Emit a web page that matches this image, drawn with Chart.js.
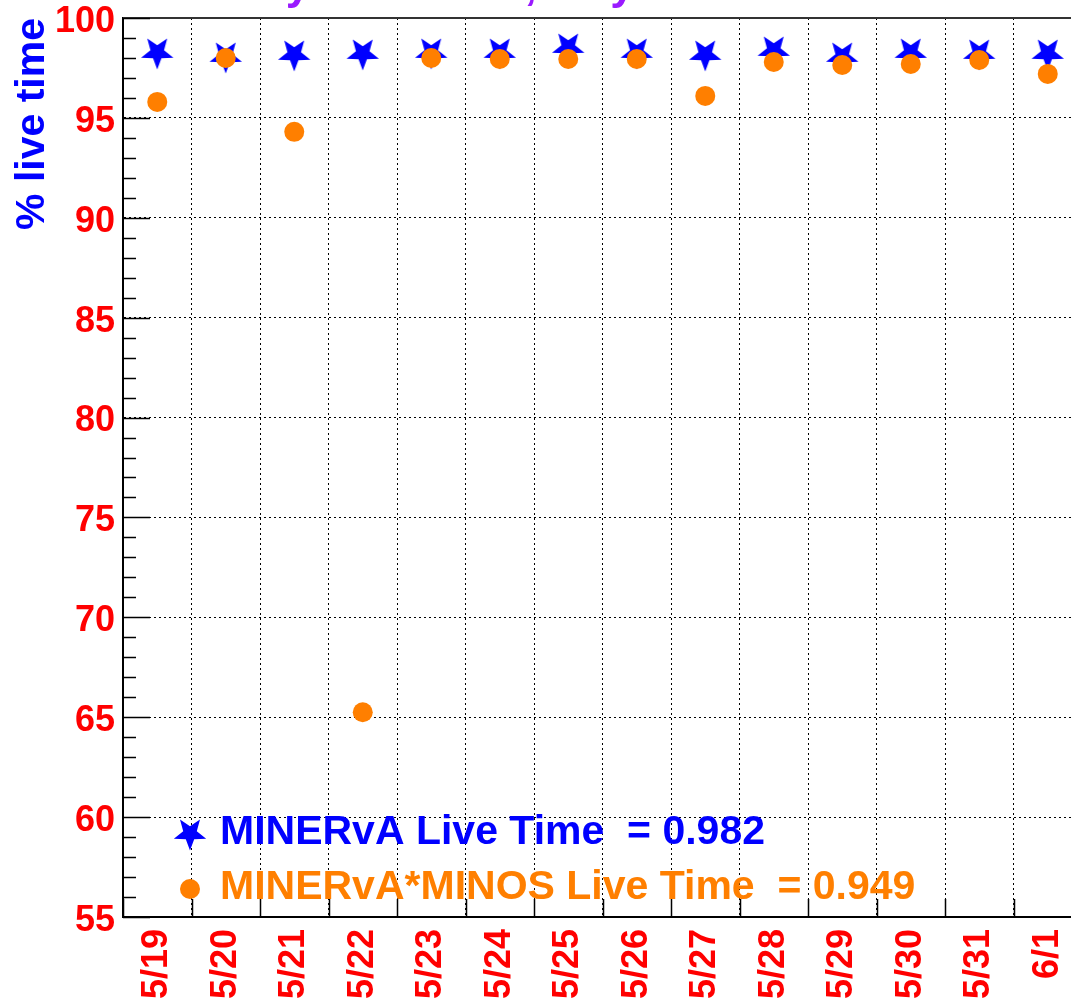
<!DOCTYPE html>
<html>
<head>
<meta charset="utf-8">
<script src="https://cdn.jsdelivr.net/npm/chart.js@4.4.0/dist/chart.umd.min.js"></script>
<style>
  html, body { margin: 0; padding: 0; overflow: hidden; background: #fff; }
  #wrap { position: absolute; left: 0; top: 0; width: 1100px; height: 1004px; }
</style>
</head>
<body>
<div id="wrap"><canvas id="liveChart"></canvas></div>
<script>
const days = ["5/19", "5/20", "5/21", "5/22", "5/23", "5/24", "5/25",
              "5/26", "5/27", "5/28", "5/29", "5/30", "5/31", "6/1"];
const minervaLive = [98.2, 98.0, 98.1, 98.15, 98.2, 98.2, 98.45,
                     98.2, 98.1, 98.3, 98.0, 98.2, 98.15, 98.15];
const minosLive = [95.8, 98.0, 94.3, 65.25, 98.0, 97.95, 97.95,
                   97.95, 96.1, 97.8, 97.65, 97.7, 97.9, 97.2];
const yTicks = [55, 60, 65, 70, 75, 80, 85, 90, 95, 100];
const summaryLabels = ["MINERvA Live Time", "MINERvA*MINOS Live Time"];
const summaryValues = [0.982, 0.949];
const plotTitle = "Daily Live Time, May 19 - June 1";

const FONT = "'Liberation Sans', Arial, Helvetica, sans-serif";
const BLUE = "#0000ff";
const ORANGE = "#ff7f00";
const RED = "#ff0000";
const PURPLE = "#9a1aff";

// filled 5 point star, tip pointing down
const makeStar = (color, R) => {
  const size = Math.ceil(2 * R + 4);
  const c = document.createElement("canvas");
  c.width = size;
  c.height = size;
  const g = c.getContext("2d");
  const cx = size / 2;
  const cy = size / 2 - 0.0955 * R;
  const r = 0.42 * R;
  g.beginPath();
  for (let k = 0; k < 10; k++) {
    const a = (k * Math.PI) / 5;
    const rad = k % 2 === 0 ? R : r;
    const x = cx + rad * Math.sin(a);
    const y = cy + rad * Math.cos(a);
    if (k === 0) g.moveTo(x, y);
    else g.lineTo(x, y);
  }
  g.closePath();
  g.fillStyle = color;
  g.fill();
  return c;
};

const starImg = makeStar(BLUE, 17);

// frame, inward ticks, title and the summary box
const decorations = {
  id: "decorations",
  afterDraw(chart) {
    const ctx = chart.ctx;
    const area = chart.chartArea;
    const xs = chart.scales.x;
    const ys = chart.scales.y;
    ctx.save();

    // top frame line
    ctx.strokeStyle = "#333";
    ctx.lineWidth = 2;
    ctx.beginPath();
    ctx.moveTo(area.left, area.top);
    ctx.lineTo(chart.width, area.top);
    ctx.stroke();

    // y ticks (major every 5, minor every 1)
    ctx.strokeStyle = "#000";
    ctx.lineWidth = 1.5;
    ctx.beginPath();
    for (let v = ys.min; v <= ys.max; v++) {
      const y = Math.round(ys.getPixelForValue(v)) + 0.5;
      const len = v % 5 === 0 ? 27 : 13;
      ctx.moveTo(area.left, y);
      ctx.lineTo(area.left + len, y);
    }
    // x ticks at bin edges
    const half = (xs.getPixelForValue(1) - xs.getPixelForValue(0)) / 2;
    for (let i = 0; i <= days.length; i++) {
      const x = Math.round(xs.getPixelForValue(i) - half) + 0.5;
      ctx.moveTo(x, area.bottom);
      ctx.lineTo(x, area.bottom - 18);
    }
    ctx.stroke();

    // title, mostly outside the picture
    ctx.font = "bold 44px " + FONT;
    ctx.fillStyle = PURPLE;
    ctx.textAlign = "left";
    ctx.textBaseline = "alphabetic";
    ctx.fillText(plotTitle, 205, -1);

    // summary box
    ctx.font = "bold 41px " + FONT;
    ctx.drawImage(starImg, 190 - starImg.width / 2, 835 - starImg.height / 2);
    ctx.fillStyle = BLUE;
    ctx.fillText(summaryLabels[0] + "  = " + summaryValues[0].toFixed(3), 220, 844);

    ctx.beginPath();
    ctx.arc(190, 889, 10, 0, Math.PI * 2);
    ctx.fillStyle = ORANGE;
    ctx.fill();
    ctx.fillText(summaryLabels[1] + "  = " + summaryValues[1].toFixed(3), 220, 899);

    ctx.restore();
  },
};

const ctx = document.getElementById("liveChart").getContext("2d");

const myChart = new Chart(ctx, {
  type: "line",
  data: {
    labels: days,
    datasets: [
      {
        label: summaryLabels[1],
        data: minosLive,
        showLine: false,
        pointStyle: "circle",
        pointRadius: 10,
        pointBackgroundColor: ORANGE,
        pointBorderWidth: 0,
        order: 0,
      },
      {
        label: summaryLabels[0],
        data: minervaLive,
        showLine: false,
        pointStyle: starImg,
        pointRadius: 17,
        order: 1,
      },
    ],
  },
  options: {
    responsive: true,
    maintainAspectRatio: false,
    animation: false,
    layout: { padding: { top: 17, right: 1, left: 0, bottom: 0 } },
    plugins: {
      legend: { display: false },
      tooltip: { enabled: false },
    },
    scales: {
      x: {
        type: "category",
        offset: true,
        grid: {
          offset: true,
          color: "#000",
          lineWidth: 1,
          drawTicks: false,
        },
        border: { display: true, color: "#000", width: 2, dash: [2, 3] },
        ticks: {
          color: RED,
          font: { family: FONT, size: 36, weight: "bold" },
          minRotation: 90,
          maxRotation: 90,
          padding: 12,
          autoSkip: false,
        },
        afterFit: (scale) => {
          scale.height = 87;
          scale.paddingLeft = 0;
          scale.paddingRight = 0;
        },
      },
      y: {
        min: 55,
        max: 100,
        afterBuildTicks: (scale) => {
          scale.ticks = yTicks.map((v) => ({ value: v }));
        },
        grid: {
          color: "#000",
          lineWidth: 1,
          drawTicks: false,
        },
        border: { display: true, color: "#000", width: 2, dash: [2, 3] },
        ticks: {
          color: RED,
          font: { family: FONT, size: 36, weight: "bold" },
          padding: 8,
          labelOffset: 4,
        },
        title: {
          display: true,
          text: "% live time",
          color: BLUE,
          align: "end",
          font: { family: FONT, size: 41, weight: "bold" },
          padding: { top: 8, bottom: 0 },
        },
        afterFit: (scale) => {
          scale.width = 123;
          scale.paddingTop = 0;
          scale.paddingBottom = 0;
        },
      },
    },
  },
  plugins: [decorations],
});
</script>
</body>
</html>
